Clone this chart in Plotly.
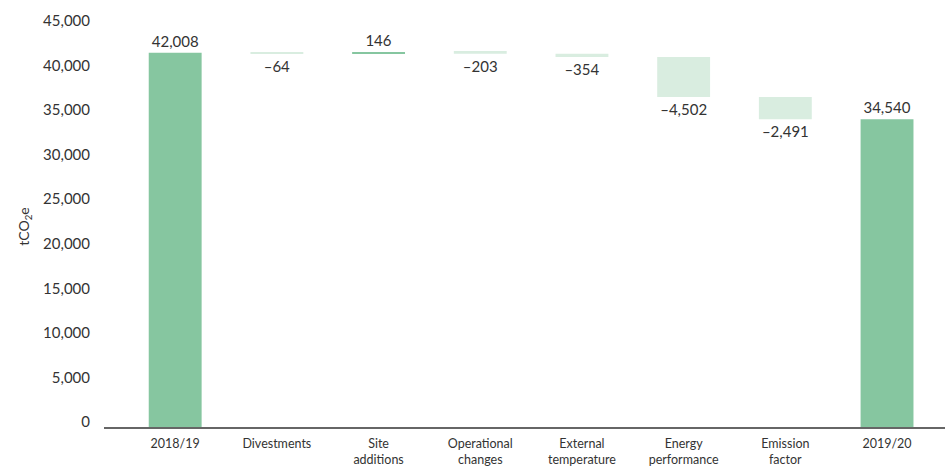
import plotly.graph_objects as go

categories = ["2018/19", "Divestments", "Site<br>additions", "Operational<br>changes",
              "External<br>temperature", "Energy<br>performance", "Emission<br>factor", "2019/20"]
values = [42008, -64, 146, -203, -354, -4502, -2491, 34540]
measures = ["absolute", "relative", "relative", "relative", "relative", "relative", "relative", "total"]
labels = ["42,008", "\u201364", "146", "\u2013203", "\u2013354", "\u20134,502", "\u20132,491", "34,540"]
y_ticks = [0, 5000, 10000, 15000, 20000, 25000, 30000, 35000, 40000, 45000]
y_ticktext = ["0", "5,000", "10,000", "15,000", "20,000", "25,000", "30,000", "35,000", "40,000", "45,000"]

dark = "#86C6A0"
light = "#D9EDE0"
font_family = "Lato, 'Noto Sans', sans-serif"
text_color = "#333333"

fig = go.Figure(go.Waterfall(
    x=categories,
    y=values,
    measure=measures,
    text=labels,
    textposition="outside",
    textfont=dict(size=15, color=text_color, family=font_family),
    increasing=dict(marker=dict(color=dark)),
    decreasing=dict(marker=dict(color=light)),
    totals=dict(marker=dict(color=dark)),
    connector=dict(visible=False),
    cliponaxis=False,
    hoverinfo="skip",
))

fig.update_layout(
    width=946, height=467,
    margin=dict(l=104, r=1, t=26, b=40, autoexpand=False),
    paper_bgcolor="white", plot_bgcolor="white",
    showlegend=False,
    waterfallgap=0.48,
    font=dict(family=font_family, color=text_color),
)
fig.update_xaxes(
    range=[-0.7, 7.57],
    showgrid=False, zeroline=False,
    showline=True, linecolor="#666666", linewidth=1.5,
    ticks="", ticklabelstandoff=4,
    tickfont=dict(size=12.5, color=text_color, family=font_family),
    fixedrange=True,
)
fig.update_yaxes(
    range=[0, 45000],
    tickvals=y_ticks, ticktext=y_ticktext,
    showgrid=False, zeroline=False, showline=False,
    ticks="", ticklabelstandoff=13,
    ticklabelshift=-5,
    tickfont=dict(size=15, color=text_color, family=font_family),
    title=dict(text="tCO<sub>2</sub>e", font=dict(size=14, color=text_color, family=font_family), standoff=10),
    fixedrange=True,
)

fig.write_html("out.html", config={"displayModeBar": False},
               post_script="document.body.style.margin='0';")
